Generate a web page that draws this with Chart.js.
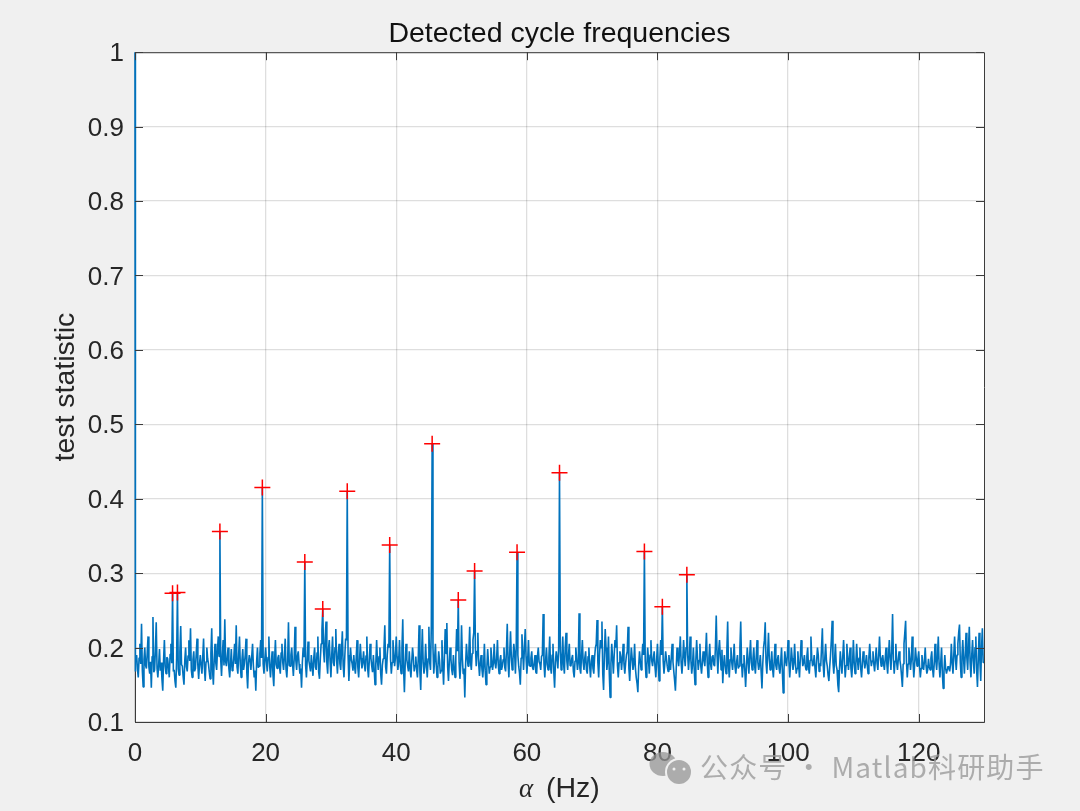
<!DOCTYPE html>
<html>
<head>
<meta charset="utf-8">
<title>Detected cycle frequencies</title>
<script src="https://cdn.jsdelivr.net/npm/chart.js@4"></script>
<style>
  html, body { margin: 0; padding: 0; background: #f0f0f0; }
  canvas { display: block; }
</style>
</head>
<body>
<canvas id="grafica" width="1080" height="811"></canvas>
<script>
const xTicks = [0, 20, 40, 60, 80, 100, 120];
const yTicks = [0.1, 0.2, 0.3, 0.4, 0.5, 0.6, 0.7, 0.8, 0.9, 1];

// test statistic, one value every 0.125 Hz (rows of 5 Hz)
const alphaStep = 0.125;
const firstValue = 1;
const statistic = [
  .168,.182,.19,.171,.16,.186,.205,.178,.232,.169,.147,.184,.2,.176,.172,.193,.215,.174,.165,.181,.146,.188,.241,.167,.17,.196,.234,.172,.16,.177,.198,.169,.18,.158,.142,.183,.21,.175,.165,.187,
  .185,.173,.16,.191,.205,.179,.273,.168,.17,.155,.146,.186,.274,.171,.163,.194,.229,.177,.175,.161,.15,.183,.2,.174,.168,.189,.21,.182,.226,.17,.16,.184,.195,.168,.172,.192,.212,.176,.158,.178,
  .19,.176,.165,.188,.212,.173,.155,.181,.2,.185,.178,.167,.158,.192,.226,.17,.15,.183,.205,.179,.17,.195,.215,.188,.356,.184,.162,.19,.21,.176,.238,.181,.175,.187,.2,.172,.16,.178,.198,.169,
  .172,.186,.205,.178,.23,.174,.165,.191,.215,.177,.16,.183,.198,.17,.178,.19,.212,.166,.145,.179,.19,.183,.17,.188,.205,.176,.16,.169,.142,.181,.2,.173,.175,.192,.21,.186,.415,.178,.165,.184,
  .2,.181,.168,.187,.215,.175,.16,.179,.195,.164,.148,.183,.21,.177,.172,.186,.19,.174,.165,.193,.205,.18,.17,.188,.212,.171,.16,.182,.234,.176,.175,.19,.2,.178,.162,.185,.228,.183,.17,.189,
  .195,.178,.165,.172,.146,.18,.2,.187,.315,.176,.16,.184,.208,.182,.175,.168,.19,.175,.162,.186,.2,.174,.17,.193,.215,.167,.158,.185,.205,.224,.252,.195,.18,.212,.235,.18,.165,.198,.21,.182,
  .16,.19,.215,.18,.175,.2,.225,.183,.165,.192,.205,.178,.17,.197,.222,.176,.16,.188,.212,.21,.41,.19,.155,.179,.2,.184,.178,.169,.19,.174,.165,.187,.21,.173,.16,.182,.205,.186,.172,.18,
  .195,.177,.168,.189,.215,.172,.16,.183,.205,.186,.175,.167,.19,.171,.15,.178,.21,.182,.17,.188,.2,.165,.15,.176,.185,.198,.23,.174,.165,.19,.205,.2,.338,.185,.165,.18,.21,.192,.175,.186,
  .215,.188,.17,.182,.21,.176,.165,.198,.238,.172,.14,.179,.205,.184,.175,.168,.195,.173,.16,.181,.2,.187,.168,.176,.188,.17,.16,.186,.23,.168,.143,.189,.225,.18,.165,.174,.205,.178,.16,.185,
  .228,.18,.17,.23,.474,.2,.165,.184,.205,.177,.16,.172,.195,.183,.165,.169,.21,.176,.15,.186,.225,.192,.233,.174,.155,.18,.2,.185,.17,.163,.19,.174,.16,.187,.225,.195,.264,.18,.158,.176,
  .23,.186,.165,.172,.133,.178,.205,.187,.175,.195,.228,.18,.17,.192,.21,.22,.303,.2,.175,.195,.22,.178,.162,.18,.19,.171,.16,.176,.205,.169,.15,.172,.198,.18,.165,.174,.2,.184,.17,.179,
  .205,.179,.172,.186,.21,.177,.165,.182,.19,.17,.175,.184,.2,.173,.168,.196,.232,.18,.16,.192,.222,.187,.17,.183,.205,.194,.165,.2,.328,.19,.175,.166,.15,.186,.218,.192,.17,.2,.225,.188,
  .165,.182,.21,.176,.175,.186,.195,.173,.17,.18,.19,.167,.165,.188,.2,.181,.178,.17,.188,.19,.245,.178,.16,.183,.2,.177,.17,.186,.215,.174,.165,.19,.205,.168,.146,.18,.195,.185,.172,.2,
  .435,.195,.17,.186,.215,.178,.165,.2,.22,.182,.17,.19,.205,.176,.175,.185,.19,.168,.16,.182,.2,.184,.17,.18,.246,.172,.165,.19,.21,.18,.17,.186,.195,.17,.165,.188,.2,.175,.16,.181,
  .19,.172,.165,.187,.2,.205,.237,.18,.16,.19,.21,.2,.235,.165,.143,.19,.225,.2,.17,.182,.215,.165,.133,.178,.205,.186,.165,.19,.21,.2,.23,.176,.16,.18,.195,.188,.17,.185,.205,.178,
  .165,.179,.19,.195,.228,.172,.155,.18,.2,.186,.17,.178,.205,.172,.16,.152,.14,.175,.195,.182,.17,.188,.205,.19,.329,.182,.16,.176,.2,.184,.165,.19,.21,.182,.175,.186,.195,.174,.16,.183,
  .205,.177,.155,.186,.21,.19,.255,.182,.165,.179,.195,.185,.175,.168,.19,.178,.17,.188,.205,.181,.168,.156,.142,.172,.2,.186,.175,.193,.215,.18,.165,.183,.21,.188,.175,.2,.298,.19,.17,.186,
  .215,.182,.165,.178,.2,.172,.15,.182,.21,.187,.17,.183,.205,.176,.165,.18,.195,.183,.175,.194,.22,.18,.16,.186,.205,.178,.17,.188,.19,.177,.175,.2,.243,.19,.165,.196,.21,.188,.17,.197,
  .152,.176,.19,.176,.165,.195,.235,.175,.16,.184,.2,.18,.17,.186,.205,.174,.165,.181,.19,.172,.175,.2,.235,.18,.16,.178,.19,.17,.147,.174,.2,.182,.165,.19,.21,.18,.17,.185,.2,.176,
  .165,.188,.21,.18,.17,.178,.19,.168,.145,.178,.2,.21,.234,.18,.165,.192,.22,.185,.17,.178,.195,.172,.16,.182,.205,.176,.17,.184,.19,.172,.165,.181,.2,.168,.139,.17,.195,.183,.175,.188,
  .21,.182,.16,.177,.2,.186,.17,.178,.205,.18,.165,.172,.195,.176,.16,.186,.21,.19,.175,.18,.19,.176,.17,.188,.2,.174,.165,.183,.215,.186,.175,.178,.19,.172,.16,.182,.2,.19,.168,.179,
  .175,.2,.226,.178,.16,.186,.205,.182,.175,.163,.155,.174,.19,.21,.236,.18,.165,.184,.205,.176,.17,.15,.14,.172,.195,.178,.165,.188,.21,.182,.16,.176,.205,.184,.17,.187,.2,.172,.16,.178,
  .21,.18,.165,.178,.205,.183,.17,.186,.2,.172,.16,.178,.195,.184,.172,.18,.19,.176,.165,.187,.205,.186,.175,.182,.195,.178,.168,.184,.2,.179,.17,.19,.215,.188,.175,.184,.19,.178,.17,.185,
  .2,.178,.165,.188,.21,.186,.17,.195,.245,.185,.165,.182,.205,.18,.17,.184,.195,.183,.175,.162,.147,.178,.205,.22,.236,.182,.16,.178,.2,.186,.17,.184,.215,.182,.16,.176,.2,.186,.175,.184,
  .195,.176,.16,.172,.19,.178,.17,.182,.2,.176,.165,.17,.185,.174,.17,.186,.195,.172,.16,.178,.205,.182,.17,.188,.215,.178,.16,.18,.2,.165,.145,.168,.19,.172,.165,.17,.175,.172,.168,.178,
  .205,.18,.165,.19,.215,.186,.17,.19,.205,.22,.231,.18,.16,.188,.21,.184,.165,.19,.22,.186,.17,.2,.228,.18,.16,.19,.21,.182,.165,.2,.215,.17,.147,.185,.22,.18,.155,.2,.226,.18,
  .18
];

// detected cycle frequencies (red crosses)
const peakAlpha = [5.75, 6.5, 13, 19.5, 26, 28.75, 32.5, 39, 45.5, 49.5, 52, 58.5, 65, 78, 80.75, 84.5];
const peakValue = [.273, .274, .356, .415, .315, .252, .41, .338, .474, .264, .303, .328, .435, .329, .255, .298];

const curve = [{ x: 0, y: firstValue }].concat(statistic.map((v, i) => ({ x: i * alphaStep, y: v })));
const peaks = peakAlpha.map((a, i) => ({ x: a, y: peakValue[i] }));

const tinta = '#262626';
const ejes = '#3c3c3c';

const matlabLook = {
  id: 'matlabLook',
  beforeDraw(chart) {
    const { ctx, chartArea: a } = chart;
    ctx.save();
    ctx.fillStyle = '#f0f0f0';
    ctx.fillRect(0, 0, chart.width, chart.height);
    ctx.fillStyle = '#ffffff';
    ctx.fillRect(a.left, a.top, a.right - a.left, a.bottom - a.top);
    ctx.restore();
  },
  afterDatasetsDraw(chart) {
    const { ctx, chartArea: a, scales } = chart;
    const tick = 8;
    ctx.save();
    ctx.strokeStyle = ejes;
    ctx.lineWidth = 1;
    ctx.beginPath();
    ctx.moveTo(a.left + 0.5, a.top + 0.5);
    ctx.lineTo(a.right + 0.5, a.top + 0.5);
    ctx.lineTo(a.right + 0.5, a.bottom + 0.5);
    ctx.lineTo(a.left + 0.5, a.bottom + 0.5);
    xTicks.forEach(v => {
      const x = Math.round(scales.x.getPixelForValue(v)) + 0.5;
      ctx.moveTo(x, a.bottom); ctx.lineTo(x, a.bottom - tick);
      ctx.moveTo(x, a.top); ctx.lineTo(x, a.top + tick);
    });
    yTicks.forEach(v => {
      const y = Math.round(scales.y.getPixelForValue(v)) + 0.5;
      ctx.moveTo(a.left, y); ctx.lineTo(a.left + tick, y);
      ctx.moveTo(a.right, y); ctx.lineTo(a.right - tick, y);
    });
    ctx.stroke();
    ctx.restore();
  },
  afterDraw(chart) {
    const ctx = chart.ctx;
    ctx.save();
    // x label, alpha in the TeX-like italic
    ctx.fillStyle = tinta;
    ctx.textBaseline = 'alphabetic';
    ctx.font = 'italic 27px "Liberation Serif"';
    ctx.fillText('α', 519, 797);
    ctx.font = '28.5px "Liberation Sans"';
    ctx.fillText('(Hz)', 546, 797);
    // watermark: chat bubbles and account name
    const gris = 'rgba(150,150,150,0.75)';
    ctx.fillStyle = gris;
    ctx.beginPath();
    ctx.ellipse(663, 764, 13.5, 12, 0, 0, Math.PI * 2);
    ctx.fill();
    ctx.fillStyle = '#f0f0f0';
    ctx.beginPath();
    ctx.arc(679, 772, 14, 0, Math.PI * 2);
    ctx.fill();
    ctx.fillStyle = 'rgb(172,172,172)';
    ctx.beginPath();
    ctx.arc(679, 772, 12, 0, Math.PI * 2);
    ctx.fill();
    ctx.fillStyle = '#f0f0f0';
    ctx.beginPath();
    ctx.arc(674, 769, 1.5, 0, Math.PI * 2);
    ctx.arc(684, 769, 1.5, 0, Math.PI * 2);
    ctx.fill();
    ctx.fillStyle = gris;
    ctx.font = '28px "Noto Sans CJK SC"';
    ctx.letterSpacing = '1.15px';
    ctx.fillText('公众号 · Matlab科研助手', 700, 778);
    ctx.restore();
  }
};

new Chart(document.getElementById('grafica').getContext('2d'), {
  type: 'scatter',
  data: {
    datasets: [{
      data: peaks,
      showLine: false,
      pointStyle: 'cross',
      pointRadius: 8,
      pointBorderWidth: 1.5,
      pointBorderColor: '#ff0000',
      clip: false
    }, {
      data: curve,
      showLine: true,
      borderColor: '#0072bd',
      borderWidth: 1.6,
      borderJoinStyle: 'bevel',
      pointRadius: 0,
      tension: 0,
      clip: false
    }]
  },
  plugins: [matlabLook],
  options: {
    responsive: false,
    animation: false,
    layout: { padding: { right: 96 } },
    plugins: {
      legend: { display: false },
      tooltip: { enabled: false },
      title: {
        display: true,
        fullSize: false,
        text: 'Detected cycle frequencies',
        color: '#111111',
        font: { family: '"Liberation Sans"', size: 28.5, weight: 'normal', lineHeight: 1.2 },
        padding: { top: 17, bottom: 1 }
      }
    },
    scales: {
      x: {
        type: 'linear',
        min: 0,
        max: 130,
        afterBuildTicks: s => { s.ticks = xTicks.map(v => ({ value: v })); },
        afterFit: s => { s.height = 89; },
        grid: { color: 'rgba(0,0,0,0.13)', lineWidth: 1.3, drawTicks: false },
        border: { color: ejes },
        ticks: {
          color: tinta,
          padding: 16,
          maxRotation: 0,
          autoSkip: false,
          font: { family: '"Liberation Sans"', size: 26 },
          callback: v => String(v)
        }
      },
      y: {
        min: 0.1,
        max: 1,
        afterBuildTicks: s => { s.ticks = yTicks.map(v => ({ value: v })); },
        afterFit: s => { s.width = 135; },
        grid: { color: 'rgba(0,0,0,0.13)', lineWidth: 1.3, drawTicks: false },
        border: { color: ejes },
        title: {
          display: true,
          text: 'test statistic',
          color: tinta,
          font: { family: '"Liberation Sans"', size: 28.5, lineHeight: 1.2 },
          padding: { top: 49, bottom: 0 }
        },
        ticks: {
          color: tinta,
          padding: 11,
          labelOffset: 2,
          autoSkip: false,
          font: { family: '"Liberation Sans"', size: 26 },
          callback: v => String(v)
        }
      }
    }
  }
});
</script>
</body>
</html>
